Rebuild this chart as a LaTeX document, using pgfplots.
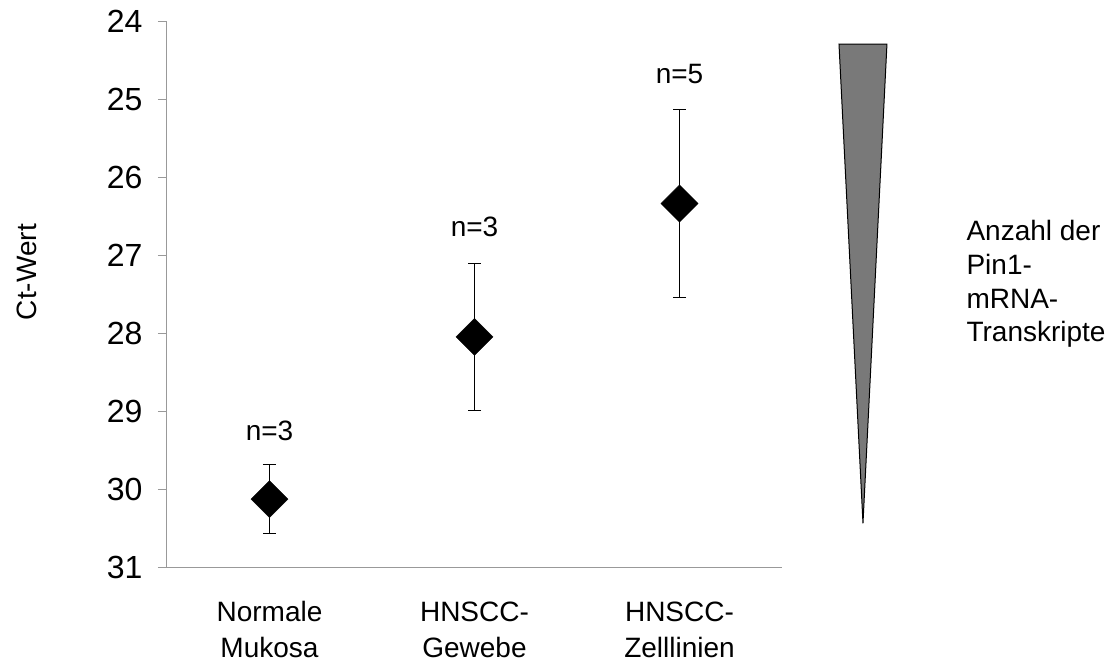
\documentclass[border=0pt]{standalone}
\usepackage{fontspec}
\setmainfont{Liberation Sans}
\usepackage{pgfplots}
\pgfplotsset{compat=1.18}
\begin{document}
\begin{tikzpicture}
\useasboundingbox (-167pt,-97pt) rectangle (940pt,567pt);
\begin{axis}[
  at={(0,0)}, anchor=south west,
  scale only axis, width=615pt, height=546pt,
  xmin=0, xmax=3, ymin=24, ymax=31, y dir=reverse,
  clip=false,
  axis lines*=left,
  axis line style={draw=gray!80, line width=1pt},
  /pgf/number format/assume math mode=true,
  ytick={24,25,...,31},
  yticklabels={24,25,26,27,28,29,30,31},
  yticklabel style={font=\fontsize{32}{38}\selectfont, anchor=east, xshift=-12pt},
  ytick style={draw=gray!80, line width=1pt},
  tick align=outside,
  major tick length=9pt,
  xtick={0.5,1.5,2.5},
  xticklabels={{Normale\\Mukosa},{HNSCC-\\Gewebe},{HNSCC-\\Zelllinien}},
  x tick style={draw=none},
  xticklabel style={font=\fontsize{28}{36}\selectfont, align=center, anchor=north, yshift=-22pt},
  extra x ticks={0,1,2,3},
  extra x tick labels={},
  extra x tick style={major tick length=5pt, tick style={draw=gray!80, line width=1pt}},
  ylabel={Ct-Wert},
  ylabel style={font=\fontsize{28}{34}\selectfont, at={(rel axis cs:-0.2065,0.54)}, anchor=south},
]
\addplot[only marks, mark=square*, mark size=13.1pt, mark options={rotate=45, fill=black, draw=black},
  error bars/.cd, y dir=both, y explicit,
  error bar style={line width=1pt, black},
  error mark options={rotate=90, mark size=6.5pt, line width=1pt, black}]
  coordinates {
    (0.5,30.13) +- (0,0.445)
    (1.5,28.05) +- (0,0.945)
    (2.5,26.34) +- (0,1.20)
  };
\node[anchor=base, font=\fontsize{28}{32}\selectfont] at (axis cs:0.5,29.38) {n=3};
\node[anchor=base, font=\fontsize{28}{32}\selectfont] at (axis cs:1.5,26.76) {n=3};
\node[anchor=base, font=\fontsize{28}{32}\selectfont] at (axis cs:2.5,24.795) {n=5};
\filldraw[fill=gray!95!black, draw=black, line width=1pt]
  (axis cs:3.278,24.295) -- (axis cs:3.512,24.295) -- (axis cs:3.395,30.44) -- cycle;
\node[anchor=base west, font=\fontsize{28}{34}\selectfont] at (axis cs:3.883,26.81) {Anzahl der};
\node[anchor=base west, font=\fontsize{28}{34}\selectfont] at (axis cs:3.883,27.245) {Pin1-};
\node[anchor=base west, font=\fontsize{28}{34}\selectfont] at (axis cs:3.883,27.68) {mRNA-};
\node[anchor=base west, font=\fontsize{28}{34}\selectfont] at (axis cs:3.883,28.115) {Transkripte};
\end{axis}
\end{tikzpicture}
\end{document}
